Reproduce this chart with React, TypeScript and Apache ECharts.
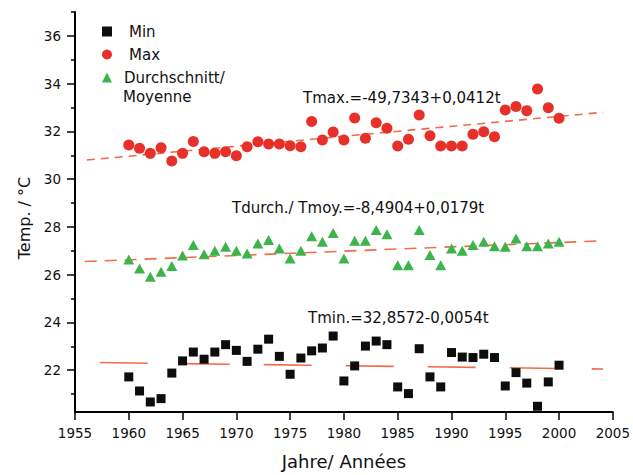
import React, { useEffect, useRef } from "react";
import * as echarts from "echarts";

const years = [
  1960, 1961, 1962, 1963, 1964, 1965, 1966, 1967, 1968, 1969,
  1970, 1971, 1972, 1973, 1974, 1975, 1976, 1977, 1978, 1979,
  1980, 1981, 1982, 1983, 1984, 1985, 1986, 1987, 1988, 1989,
  1990, 1991, 1992, 1993, 1994, 1995, 1996, 1997, 1998, 1999, 2000,
];

const minT = [
  21.72, 21.13, 20.67, 20.81, 21.88, 22.39, 22.76, 22.46, 22.76, 23.07,
  22.83, 22.37, 22.88, 23.3, 22.58, 21.83, 22.51, 22.81, 22.93, 23.43,
  21.55, 22.18, 23.01, 23.22, 23.07, 21.3, 21.02, 22.9, 21.72, 21.3,
  22.74, 22.55, 22.53, 22.67, 22.53, 21.34, 21.9, 21.46, 20.49, 21.51, 22.21,
];

const maxT = [
  31.43, 31.29, 31.08, 31.32, 30.76, 31.08, 31.58, 31.15, 31.08, 31.15,
  30.98, 31.36, 31.57, 31.47, 31.47, 31.4, 31.36, 32.41, 31.64, 31.97,
  31.64, 32.56, 31.71, 32.36, 32.13, 31.39, 31.67, 32.69, 31.82, 31.39,
  31.39, 31.39, 31.88, 31.99, 31.78, 32.9, 33.04, 32.87, 33.78, 32.99, 32.55,
];

const avgT = [
  26.64, 26.26, 25.91, 26.12, 26.36, 26.8, 27.24, 26.86, 27.0, 27.17,
  27.0, 26.89, 27.31, 27.45, 27.1, 26.68, 27.0, 27.61, 27.38, 27.75,
  26.68, 27.42, 27.42, 27.87, 27.69, 26.4, 26.4, 27.87, 26.82, 26.4,
  27.1, 27.0, 27.24, 27.38, 27.19, 27.17, 27.52, 27.19, 27.19, 27.31, 27.38,
];

// trend line endpoints
const maxTrendX = [1956.1, 2004.1];
const maxTrendY = [30.8, 32.8];
const avgTrendX = [1955.9, 2004.1];
const avgTrendY = [26.55, 27.42];
const minTrendX = [1957.3, 2004.1];
const minTrendY = [22.32, 22.05];

const yLabelValues = [22, 24, 26, 28, 30, 32, 34, 36];
const yMinorTickValues = [21, 23, 25, 27, 29, 31, 33, 35, 37];

const eqMax = "Tmax.=-49,7343+0,0412t";
const eqAvg = "Tdurch./ Tmoy.=-8,4904+0,0179t";
const eqMin = "Tmin.=32,8572-0,0054t";

const FONT = "DejaVu Sans";
const TREND = "#f26b4a";

export default function App() {
  const ref = useRef<HTMLDivElement>(null);

  useEffect(() => {
    if (!ref.current) return;
    const chart = echarts.init(ref.current, undefined, { renderer: "svg" });
    const pairs = (xs: number[], ys: number[]) => xs.map((x, i) => [x, ys[i]]);

    chart.setOption({
      animation: false,
      textStyle: { fontFamily: FONT },
      grid: { left: 75, right: 18, top: 12, bottom: 63 },
      legend: {
        orient: "vertical",
        left: 97,
        top: 18.5,
        itemWidth: 10,
        itemHeight: 10,
        itemGap: 7,
        textStyle: { fontSize: 15, color: "#111", lineHeight: 16, fontFamily: FONT },
        data: [
          { name: "Min", textStyle: { padding: [0, 0, 0, 12] } },
          { name: "Max", textStyle: { padding: [0, 0, 0, 12] } },
          { name: "Durchschnitt/", textStyle: { padding: [0, 0, 0, 7] } },
        ],
      },
      xAxis: {
        type: "value",
        min: 1955,
        max: 2005,
        interval: 5,
        splitLine: { show: false },
        axisLine: { lineStyle: { color: "#000", width: 2 } },
        axisTick: { length: 8, lineStyle: { color: "#000", width: 1.5 } },
        axisLabel: {
          fontSize: 13.5,
          color: "#111",
          margin: 14,
          showMinLabel: true,
          showMaxLabel: true,
          formatter: (v: number) => String(v),
        },
        name: "Jahre/ Années",
        nameLocation: "middle",
        nameGap: 40,
        nameTextStyle: { fontSize: 18, color: "#111", fontFamily: FONT },
      },
      yAxis: [
        {
          type: "value",
          min: 20.25,
          max: 37,
          splitLine: { show: false },
          axisLine: { show: true, lineStyle: { color: "#000", width: 2 } },
          axisTick: {
            show: true,
            length: 8,
            customValues: yLabelValues,
            lineStyle: { color: "#000", width: 1.5 },
          },
          axisLabel: {
            fontSize: 13.5,
            color: "#111",
            margin: 14,
            customValues: yLabelValues,
          },
          name: "Temp. / °C",
          nameLocation: "middle",
          nameGap: 43,
          nameTextStyle: { fontSize: 16, color: "#111", fontFamily: FONT, padding: [0, 12, 0, 0] },
        },
        {
          type: "value",
          min: 20.25,
          max: 37,
          position: "left",
          splitLine: { show: false },
          axisLine: { show: false },
          axisLabel: { show: false },
          axisTick: {
            show: true,
            length: 4,
            customValues: yMinorTickValues,
            lineStyle: { color: "#000", width: 1.5 },
          },
        },
      ],
      graphic: [
        { type: "text", x: 123, y: 97, style: { text: "Moyenne", fontSize: 15, fontFamily: FONT, fill: "#111", verticalAlign: "middle" } },
        { type: "text", x: 303, y: 98, style: { text: eqMax, fontSize: 15, fontFamily: FONT, fill: "#111", verticalAlign: "middle" } },
        { type: "text", x: 232, y: 208, style: { text: eqAvg, fontSize: 15, fontFamily: FONT, fill: "#111", verticalAlign: "middle" } },
        { type: "text", x: 308, y: 318, style: { text: eqMin, fontSize: 15, fontFamily: FONT, fill: "#111", verticalAlign: "middle" } },
      ],
      series: [
        {
          type: "line",
          name: "maxTrend",
          data: pairs(maxTrendX, maxTrendY),
          symbol: "none",
          silent: true,
          z: 1,
          lineStyle: { color: TREND, width: 1.6, type: [8, 6] },
        },
        {
          type: "line",
          name: "avgTrend",
          data: pairs(avgTrendX, avgTrendY),
          symbol: "none",
          silent: true,
          z: 1,
          lineStyle: { color: TREND, width: 1.6, type: [12, 8] },
        },
        {
          type: "line",
          name: "minTrend",
          data: pairs(minTrendX, minTrendY),
          symbol: "none",
          silent: true,
          z: 1,
          lineStyle: { color: TREND, width: 1.6, type: [48, 34] },
        },
        {
          type: "scatter",
          name: "Min",
          symbol: "rect",
          symbolSize: 9,
          z: 3,
          itemStyle: { color: "#0d0d0d", opacity: 1 },
          data: pairs(years, minT),
        },
        {
          type: "scatter",
          name: "Max",
          symbol: "circle",
          symbolSize: 11,
          z: 3,
          itemStyle: { color: "#e8302a", opacity: 1 },
          data: pairs(years, maxT),
        },
        {
          type: "scatter",
          name: "Durchschnitt/",
          symbol: "triangle",
          symbolSize: [11, 10],
          z: 3,
          itemStyle: { color: "#3cb44b", opacity: 1 },
          data: pairs(years, avgT),
        },
      ],
    });

    return () => chart.dispose();
  }, []);

  return (
    <div
      ref={ref}
      style={{ position: "fixed", left: 0, top: 0, width: 633, height: 475, background: "#fff" }}
    />
  );
}
